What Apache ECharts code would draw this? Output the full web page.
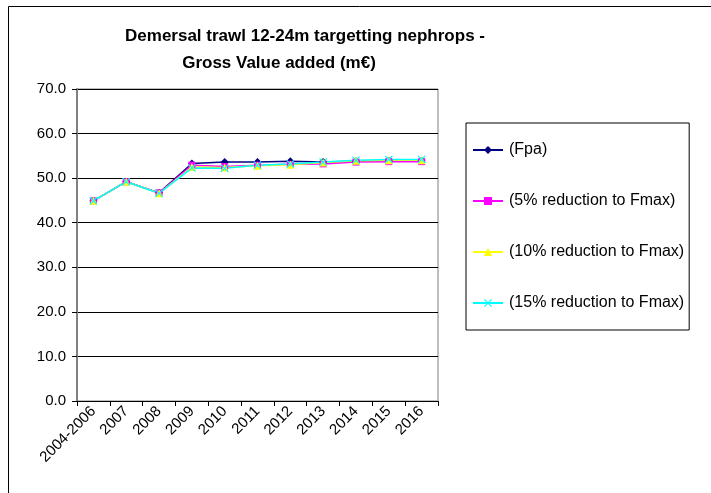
<!DOCTYPE html>
<html>
<head>
<meta charset="utf-8">
<script src="https://cdn.jsdelivr.net/npm/echarts@6/dist/echarts.min.js"></script>
<style>
  html, body { margin: 0; padding: 0; background: #fff; }
  #chart { width: 711px; height: 493px; }
</style>
</head>
<body>
<div id="chart"></div>
<script>
// categories and values
var years = ['2004-2006', '2007', '2008', '2009', '2010', '2011', '2012', '2013', '2014', '2015', '2016'];
var fpa   = [44.9, 49.2, 46.7, 53.3, 53.6, 53.6, 53.8, 53.6, 53.8, 53.9, 53.9];
var red5  = [44.9, 49.2, 46.7, 52.9, 52.6, 52.9, 53.1, 53.2, 53.6, 53.7, 53.7];
var red10 = [44.9, 49.2, 46.6, 52.5, 52.4, 52.8, 53.0, 53.5, 53.9, 54.0, 54.0];
var red15 = [44.9, 49.2, 46.6, 52.3, 52.2, 52.9, 53.2, 53.6, 54.0, 54.2, 54.2];
var yTicks = { min: 0, max: 70, step: 10 };

var crossPath = 'path://M0,1L1,0L5,4L9,0L10,1L6,5L10,9L9,10L5,6L1,10L0,9L4,5Z';
var font = 'Arial, "Liberation Sans", sans-serif';

function mkSeries(name, data, color, symbol, size) {
  return {
    name: name,
    type: 'line',
    data: data,
    symbol: symbol,
    symbolSize: size,
    showSymbol: true,
    lineStyle: { color: color, width: 1.5 },
    itemStyle: { color: color },
    emphasis: { disabled: true },
    animation: false
  };
}

var chart = echarts.init(document.getElementById('chart'));
chart.setOption({
  backgroundColor: '#fff',
  textStyle: { fontFamily: font },
  title: [
    {
      text: 'Demersal trawl 12-24m targetting nephrops -',
      left: 300, top: 23, textAlign: 'center',
      textStyle: { fontSize: 17, fontWeight: 'bold', color: '#000', fontFamily: font }
    },
    {
      text: 'Gross Value added (m\u20ac)',
      left: 274, top: 50, textAlign: 'center',
      textStyle: { fontSize: 17, fontWeight: 'bold', color: '#000', fontFamily: font }
    }
  ],
  graphic: [
    { type: 'line', shape: { x1: 8.5, y1: 6.5, x2: 711, y2: 6.5 }, style: { stroke: '#000', lineWidth: 1 } },
    { type: 'line', shape: { x1: 8.5, y1: 6.5, x2: 8.5, y2: 493 }, style: { stroke: '#000', lineWidth: 1 } }
  ],
  legend: {
    orient: 'vertical',
    left: 466, top: 123,
    padding: [19, 5, 19, 6],
    itemGap: 35,
    itemWidth: 30,
    itemHeight: 10,
    borderColor: '#000',
    borderWidth: 1,
    textStyle: { fontSize: 16, color: '#000', fontFamily: font, padding: [0, 0, 0, 1] },
    selectedMode: false,
    data: ['(Fpa)', '(5% reduction to Fmax)', '(10% reduction to Fmax)', '(15% reduction to Fmax)']
  },
  grid: {
    left: 77, right: 273, top: 89, bottom: 92,
    show: true, borderColor: '#808080', borderWidth: 1, backgroundColor: '#fff'
  },
  xAxis: {
    type: 'category',
    data: years,
    boundaryGap: true,
    axisLine: { lineStyle: { color: '#000', width: 1 } },
    axisTick: { show: true, alignWithLabel: false, length: 5, lineStyle: { color: '#000' } },
    axisLabel: { rotate: 45, fontSize: 15, color: '#000', margin: 8, interval: 0, fontFamily: font },
    splitLine: { show: false }
  },
  yAxis: {
    type: 'value',
    min: yTicks.min, max: yTicks.max, interval: yTicks.step,
    axisLine: { show: true, lineStyle: { color: '#808080', width: 2 } },
    axisTick: { show: true, length: 5, lineStyle: { color: '#000' } },
    axisLabel: { fontSize: 15, color: '#000', margin: 11, fontFamily: font, formatter: function (v) { return v.toFixed(1); } },
    splitLine: { show: true, lineStyle: { color: '#000', width: 1 } }
  },
  series: [
    mkSeries('(Fpa)', fpa, '#000080', 'diamond', 8),
    mkSeries('(5% reduction to Fmax)', red5, '#FF00FF', 'rect', 7),
    mkSeries('(10% reduction to Fmax)', red10, '#FFFF00', 'triangle', 8),
    mkSeries('(15% reduction to Fmax)', red15, '#00FFFF', crossPath, 8)
  ]
});
</script>
</body>
</html>
